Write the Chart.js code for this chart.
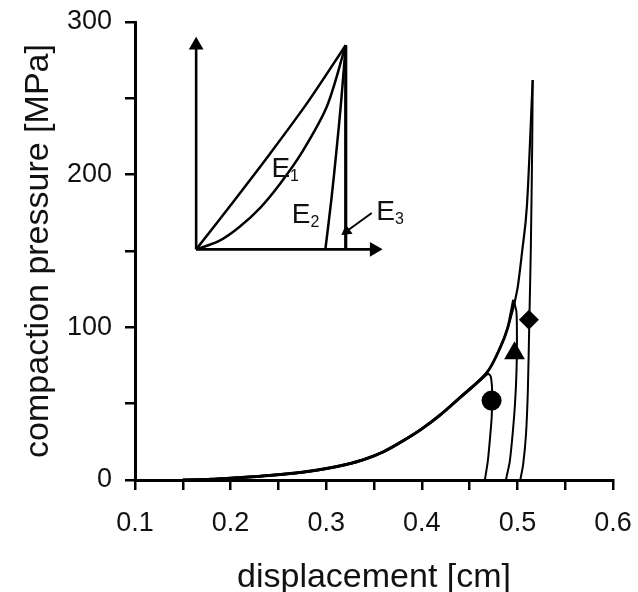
<!DOCTYPE html>
<html><head><meta charset="utf-8">
<script src="https://cdn.jsdelivr.net/npm/chart.js@4"></script>
<style>
html,body{margin:0;padding:0;background:#fff;}
#wrap{position:relative;width:638px;height:592px;overflow:hidden;}
#main{position:absolute;left:0;top:0;}
#inset{position:absolute;left:170px;top:20px;}
</style></head><body>
<div id="wrap"><canvas id="main" width="638" height="592"></canvas><canvas id="inset" width="240" height="250"></canvas></div>
<script>
// ---- main chart data ----
const envX = [0.15, 0.18, 0.20, 0.22, 0.25, 0.28, 0.30, 0.32, 0.34, 0.36, 0.38, 0.40, 0.42, 0.44, 0.46, 0.47, 0.48, 0.49, 0.50, 0.505, 0.51, 0.514, 0.516];
const envY = [0, 0.5, 1.2, 2, 3.5, 5.5, 7.5, 10, 13.5, 18.5, 25.5, 33.5, 43, 54, 65, 72, 84, 100, 125, 150, 180, 225, 262];

const circleUnloadX = [0.469, 0.472, 0.4735, 0.4735, 0.473, 0.471, 0.469, 0.467, 0.466];
const circleUnloadY = [70, 68, 60, 50, 40, 25, 12, 4, 0];
const triUnloadX = [0.496, 0.499, 0.4995, 0.499, 0.4975, 0.495, 0.492, 0.489, 0.488];
const triUnloadY = [118, 110, 90, 70, 50, 30, 12, 3, 0];
const diaUnloadX = [0.516, 0.5155, 0.514, 0.5125, 0.511, 0.509, 0.506, 0.503];
const diaUnloadY = [262, 220, 150, 105, 60, 30, 10, 0];

const markerX = [0.473, 0.497, 0.512];
const markerY = [52, 83, 105];
const markerStyles = ['circle', 'triangle', 'rectRot'];

const xTickLabels = ['0.1', '0.2', '0.3', '0.4', '0.5', '0.6'];
const yTickLabels = ['0', '100', '200', '300'];
const xTitle = 'displacement [cm]';
const yTitle = 'compaction pressure [MPa]';

// ---- inset (schematic) data, normalised units ----
const e1U = [0, 0.25, 0.5, 0.75, 1];
const e1V = [0, 0.235, 0.475, 0.725, 1];
const e2U = [0, 0.15, 0.289, 0.43, 0.56, 0.707, 0.874, 1];
const e2V = [0, 0.04, 0.11, 0.205, 0.32, 0.475, 0.70, 1];
const e3U = [0.864, 0.905, 0.937, 0.969, 1];
const e3V = [0, 0.25, 0.475, 0.72, 1];
const vertU = [1, 1];
const vertV = [0, 1];
const axisYU = [0, 0];
const axisYV = [0, 1.0];
const axisXU = [0, 1.19];
const axisXV = [0, 0];
const pointerU = [1.174, 1.006];
const pointerV = [0.178, 0.089];
const labelText = ['E', 'E', 'E'];
const labelSub = ['1', '2', '3'];
const labelU = [0.503, 0.64, 1.205];
const labelV = [0.356, 0.128, 0.146];

const pts = (xs, ys) => xs.map((x, i) => ({x: x, y: ys[i]}));
function loading(peakX, peakY) {
  return pts(envX, envY).filter(p => p.x < peakX - 0.002).concat([{x: peakX, y: peakY}]);
}

const FONT = '"Liberation Sans", Arial, Helvetica, sans-serif';
const lineDs = (data, w, mono) => ({
  type: 'scatter', data: data, showLine: true, borderColor: '#000', borderWidth: w,
  pointRadius: 0, tension: 0.25, fill: false,
  cubicInterpolationMode: mono ? 'monotone' : 'default'
});

const mainDatasets = [
  lineDs(loading(circleUnloadX[0], circleUnloadY[0]), 3, true),
  lineDs(loading(triUnloadX[0], triUnloadY[0]), 2.8, true),
  lineDs(loading(diaUnloadX[0], diaUnloadY[0]), 2.2, true),
  lineDs(pts(circleUnloadX, circleUnloadY), 2, false),
  lineDs(pts(triUnloadX, triUnloadY), 2, false),
  lineDs(pts(diaUnloadX, diaUnloadY), 2, false)
];
markerX.forEach((x, i) => {
  mainDatasets.push({
    type: 'scatter', data: [{x: x, y: markerY[i]}], showLine: false,
    pointStyle: markerStyles[i], pointRadius: i === 1 ? 12 : 10,
    backgroundColor: '#000', borderColor: '#000', borderWidth: 0
  });
});

const isMultiple = (v, step) => Math.abs(v / step - Math.round(v / step)) < 1e-6;

new Chart(document.getElementById('main'), {
  type: 'scatter',
  data: {datasets: mainDatasets},
  options: {
    responsive: false, animation: false, devicePixelRatio: 1,
    layout: {padding: {top: 22, right: 25, left: 0, bottom: 0}},
    plugins: {legend: {display: false}, tooltip: {enabled: false}},
    scales: {
      x: {
        type: 'linear', min: 0.1, max: 0.6,
        afterFit: s => { s.height = 112; s.paddingLeft = 0; s.paddingRight = 0; },
        border: {display: true, color: '#000', width: 3},
        grid: {drawOnChartArea: false, color: '#000', tickColor: '#000', tickLength: 10, tickWidth: 2.5, lineWidth: 2.5},
        ticks: {
          stepSize: 0.05, autoSkip: false, maxRotation: 0, color: '#111', padding: 17,
          font: {family: FONT, size: 27},
          callback: v => {
            if (!isMultiple(v, 0.1)) return '';
            const idx = Math.round(v * 10) - 1;
            return xTickLabels[idx] !== undefined ? xTickLabels[idx] : '';
          }
        },
        title: {display: true, text: xTitle, color: '#111', font: {family: FONT, size: 34, lineHeight: 1.2}, padding: {top: 0, bottom: -6}}
      },
      y: {
        type: 'linear', min: 0, max: 300,
        afterFit: s => { s.width = 135; s.paddingTop = 0; s.paddingBottom = 0; },
        border: {display: true, color: '#000', width: 3},
        grid: {drawOnChartArea: false, color: '#000', tickColor: '#000', tickLength: 10, tickWidth: 2.5, lineWidth: 2.5},
        ticks: {
          stepSize: 50, autoSkip: false, color: '#111', padding: 13,
          font: {family: FONT, size: 27},
          callback: v => {
            if (!isMultiple(v, 100)) return '';
            const idx = Math.round(v / 100);
            return yTickLabels[idx] !== undefined ? yTickLabels[idx] : '';
          }
        },
        title: {display: true, text: yTitle, color: '#111', font: {family: FONT, size: 34, lineHeight: 1.2}, padding: {top: 18, bottom: 0}}
      }
    }
  }
});

// ---- inset chart ----
const insetLabels = {
  id: 'insetLabels',
  afterDatasetsDraw(chart) {
    const ctx = chart.ctx, sx = chart.scales.x, sy = chart.scales.y;
    ctx.save();
    ctx.fillStyle = '#111';
    ctx.textBaseline = 'alphabetic';
    ctx.textAlign = 'left';
    labelText.forEach((t, i) => {
      const px = sx.getPixelForValue(labelU[i]);
      const py = sy.getPixelForValue(labelV[i]);
      ctx.font = '28px ' + FONT;
      ctx.fillText(t, px, py);
      const w = ctx.measureText(t).width;
      ctx.font = '16px ' + FONT;
      ctx.fillText(labelSub[i], px + w, py + 4);
    });
    ctx.restore();
  }
};

const insetDatasets = [
  lineDs(pts(axisYU, axisYV), 2.6, false),
  lineDs(pts(axisXU, axisXV), 2.6, false),
  lineDs(pts(e1U, e1V), 2.5, false),
  lineDs(pts(e2U, e2V), 2.5, false),
  lineDs(pts(e3U, e3V), 2.5, false),
  lineDs(pts(vertU, vertV), 3.2, false),
  lineDs(pts(pointerU, pointerV), 2, false),
  {type: 'scatter', data: [{x: axisYU[1], y: axisYV[1]}], pointStyle: 'triangle', pointRadius: 8.5, rotation: 0, backgroundColor: '#000', borderWidth: 0},
  {type: 'scatter', data: [{x: axisXU[1], y: axisXV[1]}], pointStyle: 'triangle', pointRadius: 8.5, rotation: 90, backgroundColor: '#000', borderWidth: 0},
  {type: 'scatter', data: [{x: pointerU[1], y: pointerV[1]}], pointStyle: 'triangle', pointRadius: 6.5, rotation: 234, backgroundColor: '#000', borderWidth: 0}
];
insetDatasets.forEach(d => { d.clip = false; });
[0, 1, 5, 6].forEach(i => { insetDatasets[i].tension = 0; });
[2, 3, 4].forEach(i => { insetDatasets[i].tension = 0.3; });

new Chart(document.getElementById('inset'), {
  type: 'scatter',
  data: {datasets: insetDatasets},
  options: {
    responsive: false, animation: false, devicePixelRatio: 1,
    layout: {padding: 0},
    plugins: {legend: {display: false}, tooltip: {enabled: false}},
    scales: {
      x: {type: 'linear', display: false, min: -0.118, max: 1.373},
      y: {type: 'linear', display: false, min: -0.0594, max: 1.082}
    }
  },
  plugins: [insetLabels]
});
</script>
</body></html>
